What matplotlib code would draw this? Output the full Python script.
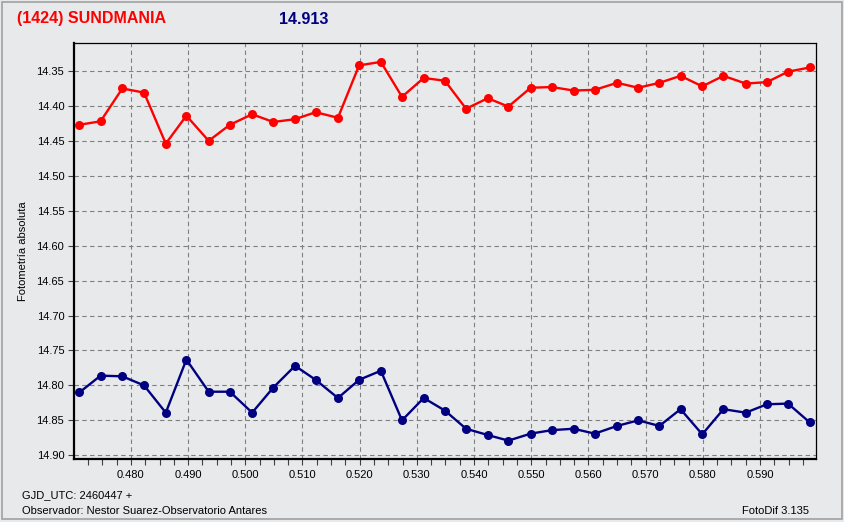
import matplotlib
matplotlib.use("Agg")
import matplotlib.pyplot as plt
from matplotlib.ticker import MultipleLocator, FormatStrFormatter
from matplotlib.patches import Rectangle

# time (fraction of day after GJD 2460447)
jd_frac = [0.4710, 0.4747, 0.4785, 0.4823, 0.4861, 0.4897, 0.4936, 0.4973, 0.5012,
           0.5049, 0.5087, 0.5123, 0.5162, 0.5199, 0.5237, 0.5274, 0.5312, 0.5349,
           0.5386, 0.5424, 0.5460, 0.5499, 0.5536, 0.5574, 0.5611, 0.5650, 0.5687,
           0.5724, 0.5761, 0.5799, 0.5836, 0.5875, 0.5912, 0.5949, 0.5987]

# asteroid (red) and comparison (blue) magnitudes
mag_red = [14.427, 14.422, 14.375, 14.381, 14.454, 14.414, 14.450, 14.427, 14.412,
           14.423, 14.419, 14.409, 14.417, 14.342, 14.337, 14.387, 14.360, 14.364,
           14.404, 14.389, 14.401, 14.374, 14.373, 14.378, 14.377, 14.367, 14.374,
           14.367, 14.357, 14.372, 14.357, 14.368, 14.366, 14.351, 14.345]

mag_blue = [14.810, 14.786, 14.787, 14.800, 14.839, 14.763, 14.809, 14.809, 14.839,
            14.803, 14.772, 14.792, 14.818, 14.792, 14.779, 14.850, 14.818, 14.836,
            14.862, 14.871, 14.879, 14.869, 14.864, 14.862, 14.869, 14.858, 14.850,
            14.858, 14.834, 14.870, 14.834, 14.839, 14.827, 14.826, 14.853]

bg = "#e8e9eb"
sans = ["Liberation Sans", "DejaVu Sans"]

fig = plt.figure(figsize=(8.44, 5.22), dpi=100, facecolor=bg)
ax = fig.add_axes([74 / 844, 1 - 459 / 522, (815.5 - 74) / 844, (459 - 43.3) / 522])
ax.set_facecolor(bg)

ax.plot(jd_frac, mag_red, color="#ff0000", lw=1.7, marker="o", ms=6.5, mew=0, zorder=3)
ax.plot(jd_frac, mag_blue, color="#000080", lw=1.7, marker="o", ms=6.5, mew=0, zorder=3)

ax.set_xlim(0.47005, 0.5997)
ax.set_ylim(14.9053, 14.3104)

ax.xaxis.set_major_locator(MultipleLocator(0.01))
ax.xaxis.set_minor_locator(MultipleLocator(0.0025))
ax.xaxis.set_major_formatter(FormatStrFormatter("%.3f"))
ax.yaxis.set_major_locator(MultipleLocator(0.05))
ax.yaxis.set_major_formatter(FormatStrFormatter("%.2f"))

ax.grid(True, which="major", color="#808080", linestyle=(0, (4, 3)), lw=0.8)
ax.tick_params(axis="both", which="both", direction="out", length=4, width=0.8,
               color="#404040")
ax.tick_params(axis="x", pad=4)
ax.tick_params(axis="y", pad=3)
for lab in ax.get_xticklabels() + ax.get_yticklabels():
    lab.set_family(sans)
    lab.set_fontsize(8)

for side in ["left", "bottom"]:
    ax.spines[side].set_linewidth(1.6)
for side in ["top", "right"]:
    ax.spines[side].set_linewidth(0.9)

# header
fig.text(17 / 844, 1 - 19 / 522, "(1424) SUNDMANIA", color="#ff0000", fontsize=11.5,
         fontweight="bold", family=sans, va="center", ha="left")
fig.text(279 / 844, 1 - 19 / 522, "14.913", color="#000080", fontsize=11.5,
         fontweight="bold", family=sans, va="center", ha="left")

fig.text(23 / 844, 1 - 251 / 522, "Fotometría absoluta", rotation=90, fontsize=8,
         family=sans, va="center", ha="center")

# footer
fig.text(22 / 844, 1 - 495 / 522, "GJD_UTC: 2460447 +", fontsize=8, family=sans,
         va="center", ha="left")
fig.text(22 / 844, 1 - 511 / 522, "Observador: Nestor Suarez-Observatorio Antares",
         fontsize=8, family=sans, va="center", ha="left")
fig.text(809 / 844, 1 - 511 / 522, "FotoDif 3.135", fontsize=8, family=sans,
         va="center", ha="right")

# window frame
fig.patches.append(Rectangle((1.5 / 844, 3 / 522), 840 / 844, 1 - 4.5 / 522,
                             transform=fig.transFigure, fill=False,
                             edgecolor="#a0a0a0", lw=1.2))

fig.savefig("out.png", dpi=100, facecolor=bg)
